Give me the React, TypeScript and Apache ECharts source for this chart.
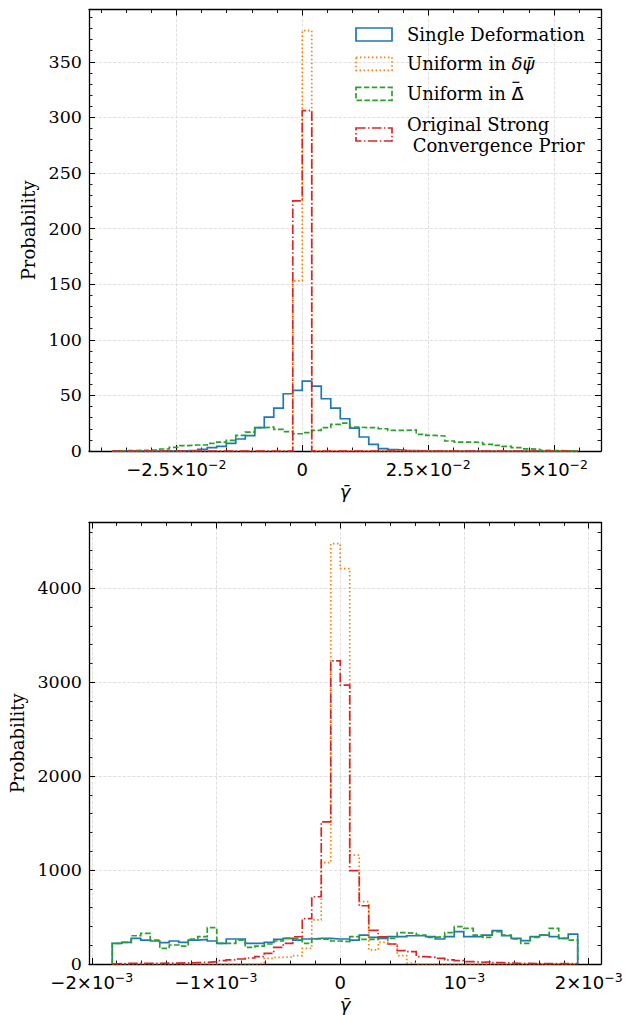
import React, { useEffect, useRef } from "react";
import * as echarts from "echarts";

// ---------- data ----------
// Top panel: 49 equal bins starting at topLo with width topBinWidth
const topLo = -0.03772;
const topBinWidth = 0.001886;
const topSingleDeformation = [
  0, 0, 0, 0, 0, 0.1, 0.2, 0.3, 0.6, 1.5, 3, 4.2, 6.9, 10.8, 13.8, 21, 30.5, 38.5, 51.5, 54.5,
  62.8, 58.4, 47, 38.6, 29, 20.5, 12.6, 6, 2.1, 1.2, 0.6, 0.3, 0.1, 0, 0, 0, 0, 0, 0, 0,
  0, 0, 0, 0, 0, 0, 0, 0, 0,
];
const topUniformPsi = [
  0, 0, 0, 0, 0, 0, 0, 0, 0, 0, 0, 0, 0, 0, 0, 0, 0, 0, 0, 153,
  378, 0, 0, 0, 0, 0, 0, 0, 0, 0, 0, 0, 0, 0, 0, 0, 0, 0, 0, 0,
  0, 0, 0, 0, 0, 0, 0, 0, 0,
];
const topUniformDelta = [
  0.2, 0.3, 0.5, 0.7, 1, 1.8, 3.3, 4.8, 5.4, 5.4, 6.9, 8, 9.6, 14, 17, 21, 21.5, 19.5, 17.5, 15.5,
  16.5, 18.5, 21, 24, 25, 21.5, 21, 21, 20, 18.5, 18.5, 19, 15, 14, 13.5, 9, 8, 8, 7.5, 6,
  5, 4.2, 3, 2, 1.5, 0.5, 0.3, 0.1, 0,
];
const topOriginal = [
  0, 0, 0, 0, 0, 0, 0, 0, 0, 0, 0, 0, 0, 0, 0, 0, 0, 0, 0, 225,
  306, 0, 0, 0, 0, 0, 0, 0, 0, 0, 0, 0, 0, 0, 0, 0, 0, 0, 0, 0,
  0, 0, 0, 0, 0, 0, 0, 0, 0,
];

// Bottom panel: 49 equal bins starting at botLo with width botBinWidth
const botLo = -0.0018353;
const botBinWidth = 0.00007647;
const botSingleDeformation = [
  220, 230, 273, 255, 245, 227, 245, 230, 255, 262, 245, 220, 266, 266, 220, 220, 230, 262, 273, 255,
  266, 273, 273, 266, 266, 255, 308, 284, 273, 291, 291, 301, 301, 291, 266, 291, 344, 291, 291, 308,
  355, 301, 273, 248, 291, 308, 291, 273, 319,
];
const botUniformPsi = [
  0, 0, 0, 0, 0, 0, 0, 0, 0, 0, 0, 0, 0, 0, 0, 7, 60, 70, 75, 90,
  167, 470, 1080, 4475, 4209, 1160, 663, 150, 230, 210, 90, 10, 0, 0, 0, 0, 0, 0, 0, 0,
  0, 0, 0, 0, 0, 0, 0, 0, 0,
];
const botUniformDelta = [
  220, 230, 301, 326, 255, 167, 202, 191, 266, 291, 387, 220, 220, 255, 177, 191, 213, 245, 273, 273,
  220, 266, 262, 245, 238, 291, 262, 262, 284, 273, 333, 326, 308, 284, 291, 333, 397, 379, 308, 284,
  344, 308, 266, 220, 284, 308, 379, 273, 255,
];
const botOriginal = [
  5, 6, 7, 8, 8, 10, 10, 12, 14, 18, 25, 35, 43, 53, 64, 78, 113, 177, 220, 290,
  482, 716, 1514, 3227, 2968, 993, 620, 358, 288, 213, 142, 131, 78, 71, 60, 43, 35, 25, 18, 25,
  14, 11, 7, 7, 4, 3, 3, 3, 3,
];

// axis ranges and ticks
const topXRange = [-0.04234, 0.05931];
const topYRange = [0, 397];
const topXTicks = [-0.025, 0, 0.025, 0.05];
const topXTickLabels = ["\u22122.5\u00d710{s|\u22122}", "0", "2.5\u00d710{s|\u22122}", "5\u00d710{s|\u22122}"];
const topXMinor = [-0.04, -0.035, -0.03, -0.02, -0.015, -0.01, -0.005, 0.005, 0.01, 0.015, 0.02, 0.03, 0.035, 0.04, 0.045, 0.055];
const topYTicks = [0, 50, 100, 150, 200, 250, 300, 350];
const topYMinor = [10, 20, 30, 40, 60, 70, 80, 90, 110, 120, 130, 140, 160, 170, 180, 190, 210, 220, 230, 240, 260, 270, 280, 290, 310, 320, 330, 340, 360, 370, 380, 390];

const botXRange = [-0.0020226, 0.0020991];
const botYRange = [0, 4700];
const botXTicks = [-0.002, -0.001, 0, 0.001, 0.002];
const botXTickLabels = ["\u22122\u00d710{s|\u22123}", "\u22121\u00d710{s|\u22123}", "0", "10{s|\u22123}", "2\u00d710{s|\u22123}"];
const botXMinor = [-0.0018, -0.0016, -0.0014, -0.0012, -0.0008, -0.0006, -0.0004, -0.0002, 0.0002, 0.0004, 0.0006, 0.0008, 0.0012, 0.0014, 0.0016, 0.0018];
const botYTicks = [0, 1000, 2000, 3000, 4000];
const botYMinor = [200, 400, 600, 800, 1200, 1400, 1600, 1800, 2200, 2400, 2600, 2800, 3200, 3400, 3600, 3800, 4200, 4400, 4600];

const seriesNames = ["Single Deformation", "Uniform in \u03b4\u03c8\u0304", "Uniform in \u0394\u0304", "Original Strong Convergence Prior"];
const seriesColors = ["#1f77b4", "#ff7f0e", "#2ca02c", "#d62728"];
const seriesDash: any[] = ["solid", [1.5, 2.5], [5.5, 2.4], [9.6, 2.4, 1.5, 2.4]];

// ---------- helpers ----------
function stepOutline(lo: number, w: number, h: number[]) {
  const pts: number[][] = [[lo, 0]];
  h.forEach((v, i) => {
    pts.push([lo + i * w, v]);
    pts.push([lo + (i + 1) * w, v]);
  });
  pts.push([lo + h.length * w, 0]);
  return pts;
}

function labelFor(ticks: number[], labels: string[]) {
  return (v: number) => {
    const span = Math.abs(ticks[ticks.length - 1] - ticks[0]) || 1;
    const i = ticks.findIndex((t) => Math.abs(t - v) < span * 1e-6);
    return i >= 0 ? labels[i] : "";
  };
}

const spine = { color: "#000", width: 1.3 };
const grid = { type: "dashed", color: "#d8d8d8", width: 0.8 };
const FS = 18;

function xAxesFor(gi: number, range: number[], major: number[], minor: number[], labels: string[]) {
  const base = { type: "value", gridIndex: gi, min: range[0], max: range[1], scale: true };
  return [
    {
      ...base,
      position: "bottom",
      axisLine: { show: true, onZero: false, lineStyle: spine },
      axisTick: { show: true, inside: true, length: 6, customValues: major, lineStyle: { color: "#000", width: 1 } },
      axisLabel: {
        show: true,
        customValues: major,
        formatter: labelFor(major, labels),
        fontFamily: "DejaVu Sans",
        fontSize: FS,
        color: "#000",
        margin: 7,
        lineHeight: 23,
        hideOverlap: false,
        rich: { s: { fontFamily: "DejaVu Sans", fontSize: 12.5, lineHeight: 23, verticalAlign: "top", color: "#000" } },
      },
      splitLine: { show: true, lineStyle: grid },
      minorTick: { show: false },
      name: "\u03b3\u0304",
      nameLocation: "middle",
      nameGap: 31,
      nameTextStyle: { fontFamily: "DejaVu Sans", fontStyle: "italic", fontSize: FS, color: "#000" },
    },
    {
      ...base,
      position: "bottom",
      axisLine: { show: false, onZero: false },
      axisTick: { show: true, inside: true, length: 3.5, customValues: minor, lineStyle: { color: "#000", width: 0.9 } },
      axisLabel: { show: false },
      splitLine: { show: false },
    },
    {
      ...base,
      position: "top",
      axisLine: { show: true, onZero: false, lineStyle: spine },
      axisTick: { show: true, inside: true, length: 6, customValues: major, lineStyle: { color: "#000", width: 1 } },
      axisLabel: { show: false },
      splitLine: { show: false },
    },
    {
      ...base,
      position: "top",
      axisLine: { show: false, onZero: false },
      axisTick: { show: true, inside: true, length: 3.5, customValues: minor, lineStyle: { color: "#000", width: 0.9 } },
      axisLabel: { show: false },
      splitLine: { show: false },
    },
  ];
}

function yAxesFor(gi: number, range: number[], major: number[], minor: number[], nameGap: number) {
  const base = { type: "value", gridIndex: gi, min: range[0], max: range[1] };
  return [
    {
      ...base,
      position: "left",
      axisLine: { show: true, onZero: false, lineStyle: spine },
      axisTick: { show: true, inside: true, length: 6, customValues: major, lineStyle: { color: "#000", width: 1 } },
      axisLabel: {
        show: true,
        customValues: major,
        formatter: (v: number) => String(Math.round(v)),
        fontFamily: "DejaVu Serif",
        fontSize: 17.5,
        color: "#000",
        margin: 7,
        hideOverlap: false,
      },
      splitLine: { show: true, lineStyle: grid },
      name: "Probability",
      nameLocation: "middle",
      nameGap,
      nameTextStyle: { fontFamily: "DejaVu Serif", fontSize: FS, color: "#000" },
    },
    {
      ...base,
      position: "left",
      axisLine: { show: false, onZero: false },
      axisTick: { show: true, inside: true, length: 3.5, customValues: minor, lineStyle: { color: "#000", width: 0.9 } },
      axisLabel: { show: false },
      splitLine: { show: false },
    },
    {
      ...base,
      position: "right",
      axisLine: { show: true, onZero: false, lineStyle: spine },
      axisTick: { show: true, inside: true, length: 6, customValues: major, lineStyle: { color: "#000", width: 1 } },
      axisLabel: { show: false },
      splitLine: { show: false },
    },
    {
      ...base,
      position: "right",
      axisLine: { show: false, onZero: false },
      axisTick: { show: true, inside: true, length: 3.5, customValues: minor, lineStyle: { color: "#000", width: 0.9 } },
      axisLabel: { show: false },
      splitLine: { show: false },
    },
  ];
}

function histSeries(axisIndex: number, lo: number, w: number, sets: number[][]) {
  return sets.map((h, k) => ({
    type: "line",
    name: seriesNames[k],
    xAxisIndex: axisIndex,
    yAxisIndex: axisIndex,
    data: stepOutline(lo, w, h),
    showSymbol: false,
    symbol: "none",
    silent: true,
    clip: true,
    z: 3 + k,
    lineStyle: { color: seriesColors[k], width: 1.7, type: seriesDash[k], cap: "butt", join: "miter" },
    emphasis: { disabled: true },
  }));
}

function legendGraphic() {
  const x0 = 356;
  const tx = 407;
  const rows = [
    { y: 34.5, text: "Single Deformation" },
    { y: 63.8, text: "Uniform in {m|\u03b4\u03c8\u0304}" },
    { y: 93.8, text: "Uniform in {u|\u0394\u0304}" },
    { y: 134.5, text: "Original Strong\n Convergence Prior" },
  ];
  const els: any[] = [];
  rows.forEach((r, k) => {
    els.push({
      type: "rect",
      shape: { x: x0, y: r.y - 6.5, width: 36, height: 13 },
      style: {
        fill: "none",
        stroke: seriesColors[k],
        lineWidth: 1.7,
        lineDash: k === 0 ? null : seriesDash[k],
      },
      z: 100,
    });
    els.push({
      type: "text",
      x: tx,
      y: r.y,
      style: {
        text: r.text,
        fill: "#000",
        fontFamily: "DejaVu Serif",
        fontSize: FS,
        lineHeight: 21,
        verticalAlign: "middle",
        align: "left",
        rich: {
          m: { fontFamily: "DejaVu Sans", fontStyle: "italic", fontSize: FS, fill: "#000" },
          u: { fontFamily: "DejaVu Sans", fontSize: FS, fill: "#000" },
        },
      },
      z: 100,
    });
  });
  // macron over the capital Delta (the combining mark sits inside the glyph)
  const deltaStart = tx + 5.691 * FS;
  els.push({
    type: "line",
    shape: { x1: deltaStart + 3, y1: rows[2].y - 11.5, x2: deltaStart + 10, y2: rows[2].y - 11.5 },
    style: { stroke: "#000", lineWidth: 1.2 },
    z: 101,
  });
  return els;
}

export default function App() {
  const ref = useRef<HTMLDivElement>(null);
  useEffect(() => {
    if (!ref.current) return;
    const chart = echarts.init(ref.current, undefined, { renderer: "svg" });
    const option: any = {
      animation: false,
      backgroundColor: "#fff",
      grid: [
        { left: 89, top: 9.5, width: 512, height: 441.5, containLabel: false, outerBoundsMode: "none" },
        { left: 89, top: 522.5, width: 512, height: 441.5, containLabel: false, outerBoundsMode: "none" },
      ],
      xAxis: [
        ...xAxesFor(0, topXRange, topXTicks, topXMinor, topXTickLabels),
        ...xAxesFor(1, botXRange, botXTicks, botXMinor, botXTickLabels),
      ],
      yAxis: [
        ...yAxesFor(0, topYRange, topYTicks, topYMinor, 46),
        ...yAxesFor(1, botYRange, botYTicks, botYMinor, 58),
      ],
      series: [
        ...histSeries(0, topLo, topBinWidth, [topSingleDeformation, topUniformPsi, topUniformDelta, topOriginal]),
        ...histSeries(4, botLo, botBinWidth, [botSingleDeformation, botUniformPsi, botUniformDelta, botOriginal]),
      ],
      graphic: legendGraphic(),
    };
    chart.setOption(option);
    return () => chart.dispose();
  }, []);
  return (
    <div
      ref={ref}
      style={{ position: "fixed", left: 0, top: 0, width: 635, height: 1015, background: "#fff" }}
    />
  );
}
